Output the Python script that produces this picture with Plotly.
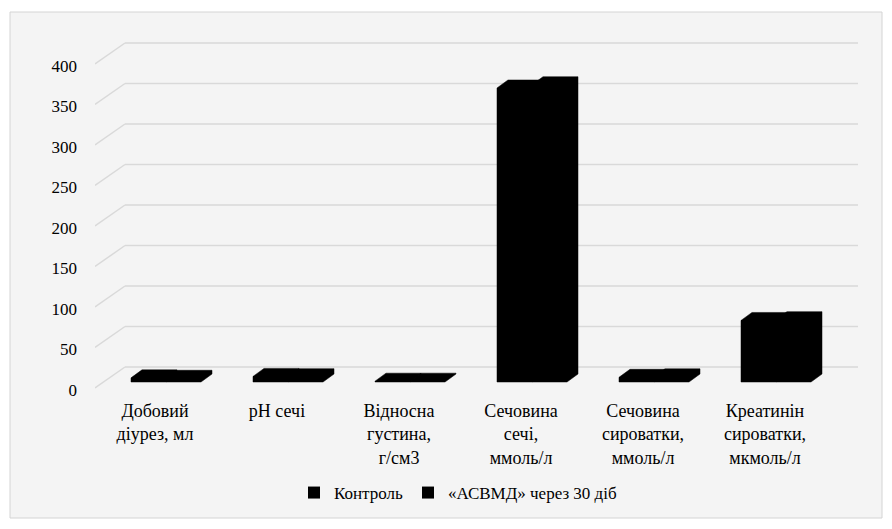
import plotly.graph_objects as go

# Indicators (x-axis categories), one label line per list item
categories = [
    ["Добовий", "діурез, мл"],
    ["pH сечі"],
    ["Відносна", "густина,", "г/см3"],
    ["Сечовина", "сечі,", "ммоль/л"],
    ["Сечовина", "сироватки,", "ммоль/л"],
    ["Креатинін", "сироватки,", "мкмоль/л"],
]
series_names = ["Контроль", "«АСВМД» через 30 діб"]
control = [5.1, 6.9, 1.01, 363, 5.8, 76]
asvmd = [4.6, 6.6, 1.03, 367, 6.4, 77]
y_ticks = [0, 50, 100, 150, 200, 250, 300, 350, 400]

# ---- geometry of the pseudo-3D column chart (pixels -> data units) ----
W, H = 892, 529
L, R, T, B = 95, 858, 30, 395          # plot area in pixels
cat_x0, cat_step = 166, 122             # pixel centre of first category, spacing
px_per_unit = 0.81                      # vertical scale
zero_px = 382                           # pixel row of value 0 on bar fronts

x_min = (L - cat_x0) / cat_step
x_max = (R - cat_x0) / cat_step
y_min = -(B - zero_px) / px_per_unit
y_max = y_min + (B - T) / px_per_unit

bar_w = 35 / cat_step                   # width of one series column
depth_dx = 11 / cat_step                # depth offset of columns
depth_dy = 8 / px_per_unit
wall_dy = 15 / px_per_unit              # back wall lift relative to bar fronts
floor_dy = -6 / px_per_unit             # front floor edge drop
wall_x = (125 - cat_x0) / cat_step      # x where the back wall starts

FONT = "Liberation Serif, Times New Roman, serif"
GRID = "#d9d9d9"

fig = go.Figure()

offsets = [-bar_w, 0.0]
for name, vals, off in zip(series_names, [control, asvmd], offsets):
    xs = list(range(len(vals)))
    # front faces
    fig.add_trace(go.Bar(
        x=xs, y=vals, name=name, offset=off, width=bar_w,
        marker=dict(color="black", line=dict(width=0)),
        showlegend=True,
    ))
    # full column silhouette: front, top and side faces
    px_, py_ = [], []
    for i, v in enumerate(vals):
        x0 = i + off
        x1 = x0 + bar_w
        px_ += [x0, x0, x0 + depth_dx, x1 + depth_dx, x1 + depth_dx, x1, x0, None]
        py_ += [0, v, v + depth_dy, v + depth_dy, depth_dy, 0, 0, None]
    fig.add_trace(go.Scatter(
        x=px_, y=py_, mode="lines", fill="toself", fillcolor="black",
        line=dict(color="black", width=0.5), showlegend=False, hoverinfo="skip",
    ))

# back-wall gridlines and the left floor/wall diagonals
shapes = []
for v in y_ticks:
    shapes.append(dict(type="line", xref="x", yref="y", layer="below",
                       x0=wall_x, x1=x_max, y0=v + wall_dy, y1=v + wall_dy,
                       line=dict(color=GRID, width=1.5)))
    shapes.append(dict(type="line", xref="x", yref="y", layer="below",
                       x0=x_min, x1=wall_x, y0=v + floor_dy, y1=v + wall_dy,
                       line=dict(color=GRID, width=1.5)))

# chart area background with thin border
def xp(px):
    return (px - L) / (R - L)

def yp(py):
    return (B - py) / (B - T)

shapes.insert(0, dict(type="rect", xref="paper", yref="paper", layer="below",
                      x0=xp(10), x1=xp(882), y0=yp(518), y1=yp(12),
                      fillcolor="#f4f4f4", line=dict(color="#d4d4d4", width=1)))

fig.update_layout(
    width=W, height=H,
    margin=dict(l=L, r=W - R, t=T, b=H - B, autoexpand=False),
    paper_bgcolor="white", plot_bgcolor="rgba(0,0,0,0)",
    font=dict(family=FONT, size=17, color="black"),
    shapes=shapes,
    showlegend=True,
    legend=dict(orientation="h", x=xp(458), xanchor="center",
                y=yp(493), yanchor="middle", bgcolor="rgba(0,0,0,0)",
                font=dict(family=FONT, size=17), itemwidth=30,
                traceorder="normal"),
    bargap=0,
)
fig.update_xaxes(
    range=[x_min, x_max], showgrid=False, zeroline=False, showline=False,
    tickmode="array", tickvals=list(range(len(categories))),
    ticktext=["<br>".join(c) for c in categories],
    ticks="", ticklabelshift=-11, ticklabelstandoff=3,
    tickfont=dict(family=FONT, size=18),
)
fig.update_yaxes(
    range=[y_min, y_max], showgrid=False, zeroline=False, showline=False,
    tickmode="array", tickvals=y_ticks, ticks="",
    ticklabelshift=8, ticklabelstandoff=17,
    tickfont=dict(family=FONT, size=17),
)

fig.write_html("out.html")
